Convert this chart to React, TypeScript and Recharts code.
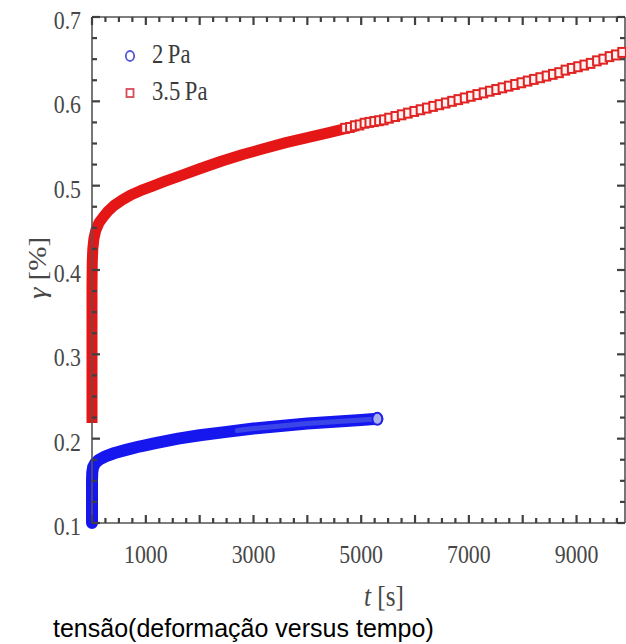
import React from 'react';
import { ComposedChart, Line, Scatter, XAxis, YAxis, ReferenceLine } from 'recharts';

// 3.5 Pa: densely sampled early creep, drawn as a continuous band
const redBand = [
  { t: 0, v: 0.225 }, { t: 0, v: 0.3 }, { t: 0, v: 0.38 }, { t: 5, v: 0.41 },
  { t: 15, v: 0.425 }, { t: 35, v: 0.437 }, { t: 70, v: 0.447 }, { t: 130, v: 0.456 },
  { t: 210, v: 0.463 }, { t: 300, v: 0.47 }, { t: 420, v: 0.477 }, { t: 560, v: 0.483 },
  { t: 720, v: 0.489 }, { t: 900, v: 0.494 }, { t: 1100, v: 0.499 }, { t: 1350, v: 0.505 },
  { t: 1650, v: 0.512 }, { t: 2000, v: 0.52 }, { t: 2400, v: 0.529 }, { t: 2800, v: 0.537 },
  { t: 3200, v: 0.544 }, { t: 3600, v: 0.551 }, { t: 4000, v: 0.557 }, { t: 4400, v: 0.563 },
  { t: 4800, v: 0.569 },
];

// 3.5 Pa: later samples, drawn as individual open squares
const redMarks = [
  { t: 4700, v: 0.568 }, { t: 4790, v: 0.569 }, { t: 4880, v: 0.571 }, { t: 4970, v: 0.572 },
  { t: 5060, v: 0.574 }, { t: 5150, v: 0.575 }, { t: 5240, v: 0.576 }, { t: 5330, v: 0.577 },
  { t: 5420, v: 0.578 }, { t: 5517, v: 0.58 }, { t: 5634, v: 0.582 },
  { t: 5751, v: 0.584 }, { t: 5868, v: 0.586 }, { t: 5985, v: 0.588 }, { t: 6102, v: 0.59 },
  { t: 6219, v: 0.592 }, { t: 6336, v: 0.594 }, { t: 6453, v: 0.596 }, { t: 6570, v: 0.598 },
  { t: 6687, v: 0.6 }, { t: 6804, v: 0.602 }, { t: 6921, v: 0.604 }, { t: 7038, v: 0.606 },
  { t: 7155, v: 0.608 }, { t: 7272, v: 0.61 }, { t: 7389, v: 0.612 }, { t: 7506, v: 0.614 },
  { t: 7623, v: 0.616 }, { t: 7740, v: 0.618 }, { t: 7857, v: 0.62 }, { t: 7974, v: 0.622 },
  { t: 8091, v: 0.624 }, { t: 8208, v: 0.626 }, { t: 8325, v: 0.628 }, { t: 8442, v: 0.63 },
  { t: 8559, v: 0.632 }, { t: 8676, v: 0.634 }, { t: 8793, v: 0.637 }, { t: 8910, v: 0.639 },
  { t: 9027, v: 0.641 }, { t: 9144, v: 0.643 }, { t: 9261, v: 0.645 }, { t: 9378, v: 0.648 },
  { t: 9495, v: 0.65 }, { t: 9612, v: 0.653 }, { t: 9729, v: 0.655 }, { t: 9846, v: 0.658 },
];

// 2 Pa: continuous band of overlapping circles
const blueBand = [
  { t: 0, v: 0.1 }, { t: 0, v: 0.13 }, { t: 0, v: 0.15 }, { t: 5, v: 0.16 },
  { t: 20, v: 0.166 }, { t: 60, v: 0.171 }, { t: 130, v: 0.175 }, { t: 250, v: 0.179 },
  { t: 420, v: 0.183 }, { t: 650, v: 0.187 }, { t: 900, v: 0.191 }, { t: 1200, v: 0.195 },
  { t: 1600, v: 0.2 }, { t: 2000, v: 0.204 }, { t: 2500, v: 0.208 }, { t: 3000, v: 0.212 },
  { t: 3500, v: 0.215 }, { t: 4000, v: 0.218 }, { t: 4500, v: 0.22 }, { t: 5000, v: 0.222 },
  { t: 5300, v: 0.2235 },
];

// 2 Pa: sparser tail where the circle centres show through
const blueCore = [
  { t: 2700, v: 0.2096 }, { t: 3000, v: 0.212 }, { t: 3500, v: 0.215 }, { t: 4000, v: 0.218 },
  { t: 4500, v: 0.22 }, { t: 5000, v: 0.222 }, { t: 5250, v: 0.2233 },
];

const blueEnd = [{ t: 5300, v: 0.2235 }];

const xTickLabels = [1000, 3000, 5000, 7000, 9000];
const yTickLabels = [0.1, 0.2, 0.3, 0.4, 0.5, 0.6, 0.7];
const seriesNames = ['2\u2009Pa', '3.5\u2009Pa'];

const X_DOMAIN: [number, number] = [0, 9900];
const Y_DOMAIN: [number, number] = [0.1, 0.7];

// minor tick grid of the boxed axes
const xTicks: number[] = [];
for (let t = 0; t <= 9750; t += 250) xTicks.push(t);
const yTicks: number[] = [];
for (let i = 0; i <= 24; i++) yTicks.push(Math.round((0.1 + i * 0.025) * 1000) / 1000);

const FRAME = '#555555';
const TICK = '#404040';
const TEXT = '#474747';
const SERIF = '"Liberation Serif", "DejaVu Serif", serif';
const SQUEEZE = 0.84;

const isMajorX = (v: number) => v % 1000 === 0;
const isMajorY = (v: number) => Math.abs(v * 10 - Math.round(v * 10)) < 1e-6;

// anchor points of the tick marks on each side of the box
const bottomMarks = xTicks.map((t) => ({ t, v: Y_DOMAIN[0] }));
const topMarks = xTicks.map((t) => ({ t, v: Y_DOMAIN[1] }));
const leftMarks = yTicks.map((v) => ({ t: X_DOMAIN[0], v }));
const rightMarks = yTicks.map((v) => ({ t: X_DOMAIN[1], v }));

const makeTick = (side: 'bottom' | 'top' | 'left' | 'right') => (p: any) => {
  const { cx, cy, payload } = p;
  if (cx == null || cy == null) return <g />;
  const major = side === 'bottom' || side === 'top' ? isMajorX(payload.t) : isMajorY(payload.v);
  const len = major ? 8 : 5;
  const w = 2.2;
  if (side === 'bottom') return <rect x={cx - w / 2} y={cy - len} width={w} height={len} fill={TICK} />;
  if (side === 'top') return <rect x={cx - w / 2} y={cy} width={w} height={len} fill={TICK} />;
  if (side === 'left') return <rect x={cx} y={cy - w / 2} width={len} height={w} fill={TICK} />;
  return <rect x={cx - len} y={cy - w / 2} width={len} height={w} fill={TICK} />;
};

const BottomLabel = (p: any) => {
  const { x, y, payload } = p;
  const v = payload.value;
  if (!xTickLabels.includes(v)) return <g />;
  return (
    <text
      transform={`translate(${x},${y + 40}) scale(${SQUEEZE},1)`}
      textAnchor="middle"
      fontFamily={SERIF}
      fontSize={26}
      fill={TEXT}
    >
      {v}
    </text>
  );
};

const LeftLabel = (p: any) => {
  const { x, y, payload } = p;
  const label = yTickLabels.find((l) => Math.abs(l - payload.value) < 1e-6);
  if (label === undefined) return <g />;
  return (
    <text
      transform={`translate(${x - 11},${y + 12}) scale(${SQUEEZE},1)`}
      textAnchor="end"
      fontFamily={SERIF}
      fontSize={26}
      fill={TEXT}
    >
      {label.toFixed(1)}
    </text>
  );
};

const SquareMark = (p: any) => {
  const { cx, cy } = p;
  if (cx == null || cy == null) return <g />;
  return (
    <rect x={cx - 3.8} y={cy - 4.5} width={7.6} height={9} fill="#fdf2f2" stroke="#e02424" strokeWidth={2} />
  );
};

const CircleEnd = (p: any) => {
  const { cx, cy } = p;
  if (cx == null || cy == null) return <g />;
  return <ellipse cx={cx} cy={cy} rx={5} ry={6} fill="#aab0ee" stroke="#2020e6" strokeWidth={2} />;
};

const axisLine = { stroke: FRAME, strokeWidth: 1.6 };

export default function App() {
  const tickSeries: [string, any[], 'bottom' | 'top' | 'left' | 'right'][] = [
    ['tb', bottomMarks, 'bottom'],
    ['tt', topMarks, 'top'],
    ['tl', leftMarks, 'left'],
    ['tr', rightMarks, 'right'],
  ];
  return (
    <div style={{ position: 'absolute', left: 0, top: 0, width: 626, height: 644, background: '#fff' }}>
      <ComposedChart width={626} height={644} margin={{ top: 17, right: 1, bottom: 0, left: 0 }}>
        <XAxis
          xAxisId="b"
          type="number"
          dataKey="t"
          domain={X_DOMAIN}
          ticks={xTicks}
          interval={0}
          tickSize={0}
          tickMargin={0}
          tickLine={false}
          tick={BottomLabel}
          height={121}
          axisLine={axisLine}
        />
        <YAxis
          yAxisId="l"
          type="number"
          dataKey="v"
          domain={Y_DOMAIN}
          ticks={yTicks}
          interval={0}
          tickSize={0}
          tickMargin={0}
          tickLine={false}
          tick={LeftLabel}
          width={92}
          axisLine={axisLine}
        />

        {/* top and right sides of the box */}
        <ReferenceLine xAxisId="b" yAxisId="l" y={Y_DOMAIN[1]} stroke={FRAME} strokeWidth={1.6} />
        <ReferenceLine xAxisId="b" yAxisId="l" x={X_DOMAIN[1]} stroke={FRAME} strokeWidth={1.6} />

        {/* inward tick marks on all four sides */}
        {tickSeries.map(([id, data, side]) => (
          <Scatter
            key={id}
            data={data}
            dataKey="v"
            xAxisId="b"
            yAxisId="l"
            shape={makeTick(side)}
            legendType="none"
            isAnimationActive={false}
          />
        ))}

        <Line
          data={redBand}
          dataKey="v"
          name={seriesNames[1]}
          xAxisId="b"
          yAxisId="l"
          type="linear"
          stroke="#e41616"
          strokeWidth={11}
          strokeLinecap="square"
          strokeLinejoin="round"
          dot={false}
          activeDot={false}
          isAnimationActive={false}
        />
        <Scatter
          data={redMarks}
          dataKey="v"
          name={seriesNames[1]}
          xAxisId="b"
          yAxisId="l"
          shape={SquareMark}
          isAnimationActive={false}
        />
        <Line
          data={blueBand}
          dataKey="v"
          name={seriesNames[0]}
          xAxisId="b"
          yAxisId="l"
          type="linear"
          stroke="#1616ee"
          strokeWidth={12}
          strokeLinecap="round"
          strokeLinejoin="round"
          dot={false}
          activeDot={false}
          isAnimationActive={false}
        />
        <Line
          data={blueCore}
          dataKey="v"
          name={seriesNames[0]}
          xAxisId="b"
          yAxisId="l"
          type="linear"
          stroke="#3a46e8"
          strokeWidth={5}
          strokeLinecap="round"
          dot={false}
          activeDot={false}
          isAnimationActive={false}
        />
        <Scatter
          data={blueEnd}
          dataKey="v"
          name={seriesNames[0]}
          xAxisId="b"
          yAxisId="l"
          shape={CircleEnd}
          isAnimationActive={false}
        />
      </ComposedChart>

      <svg
        width={626}
        height={644}
        style={{ position: 'absolute', left: 0, top: 0, pointerEvents: 'none' }}
      >
        {/* legend */}
        <ellipse cx={130} cy={56} rx={4.2} ry={5} fill="none" stroke="#5656d8" strokeWidth={1.8} />
        <text transform={`translate(152,63) scale(${SQUEEZE},1)`} fontFamily={SERIF} fontSize={27} fill="#3a3a3a">
          {seriesNames[0]}
        </text>
        <rect x={126.5} y={89} width={7} height={8} fill="none" stroke="#d64a5a" strokeWidth={1.8} />
        <text transform={`translate(152,100) scale(${SQUEEZE},1)`} fontFamily={SERIF} fontSize={27} fill="#3a3a3a">
          {seriesNames[1]}
        </text>

        {/* axis titles */}
        <text
          transform={`translate(46,268) scale(${SQUEEZE},1) rotate(-90)`}
          textAnchor="middle"
          fontFamily={SERIF}
          fontSize={29}
          fill={TEXT}
        >
          <tspan fontStyle="italic">γ</tspan> [%]
        </text>
        <text
          transform={`translate(384,606) scale(${SQUEEZE},1)`}
          textAnchor="middle"
          fontFamily={SERIF}
          fontSize={30}
          fill={TEXT}
        >
          <tspan fontStyle="italic">t</tspan> [s]
        </text>

        {/* caption */}
        <text x={53} y={637} fontFamily='"Liberation Sans", Arial, sans-serif' fontSize={25} fill="#000">
          tensão(deformação versus tempo)
        </text>
      </svg>
    </div>
  );
}
